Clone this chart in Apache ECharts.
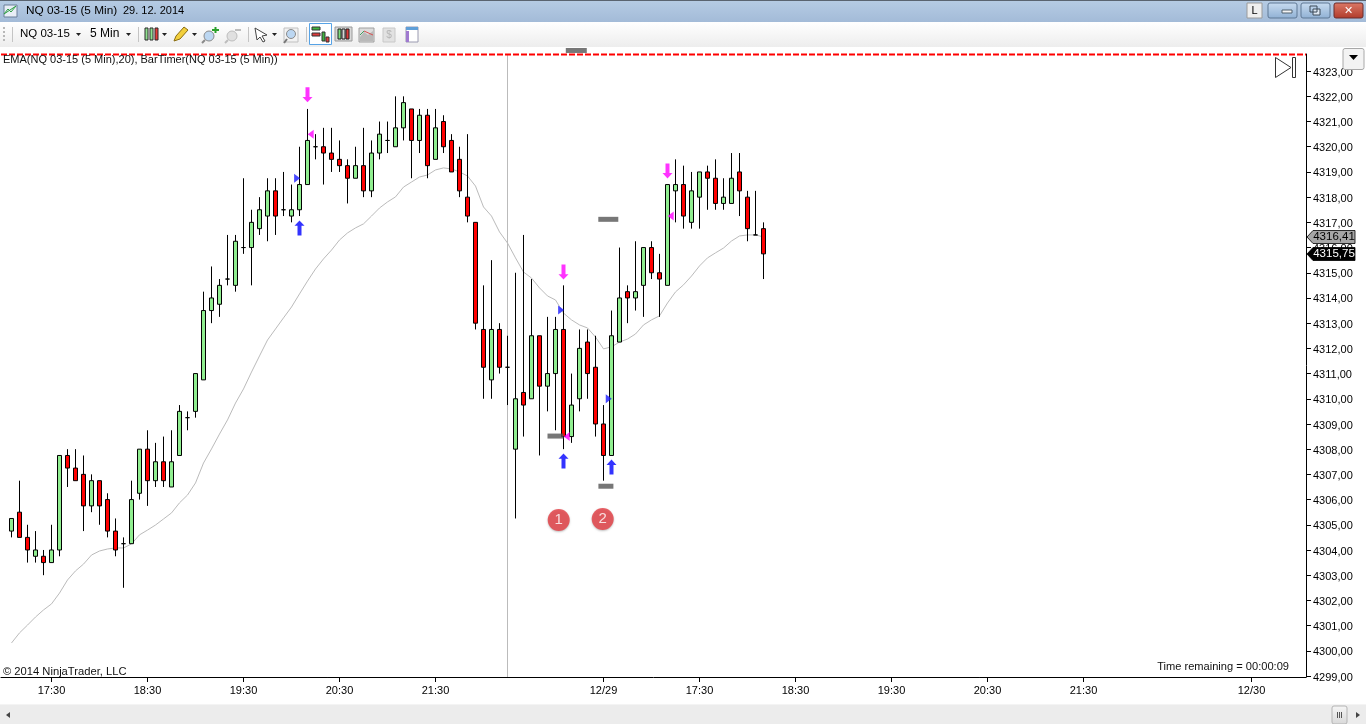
<!DOCTYPE html>
<html><head><meta charset="utf-8">
<style>html,body{margin:0;padding:0;background:#fff;overflow:hidden}#c{width:1366px;height:724px}</style>
<script src="https://cdn.jsdelivr.net/npm/echarts@6/dist/echarts.min.js"></script>
</head><body><div id="c"></div>
<script>
const opens=[4304.75,4305.5,4304.5,4303.75,4303.75,4303.5,4304,4307.75,4307.25,4307,4305.75,4306.75,4306,4304.75,4304.25,4304.25,4306.25,4308,4306.75,4307.5,4306.5,4307.75,4309.25,4309.5,4310.75,4313.5,4313.75,4314.75,4314.5,4316,4316,4316.75,4317.25,4318.25,4317.5,4317.25,4317.5,4318.5,4320,4320,4319.75,4319.5,4319.25,4318.75,4319.25,4318.25,4319.75,4320.25,4320,4320.75,4321.5,4320.25,4321.25,4319.5,4321,4320.25,4319.5,4318,4317,4312.75,4310.75,4312.75,4311.25,4308,4310.25,4310,4312.5,4310.5,4311,4312.75,4308.5,4310,4312.25,4311.25,4309,4307.75,4312.25,4314.25,4314,4314.5,4316,4315,4314.5,4318.25,4318.5,4317,4318,4319,4318.75,4317.75,4317.75,4319,4318,4316.5,4316.75];
const highs=[4305.25,4306.75,4305,4304.75,4304,4305,4307.75,4308,4308,4307.75,4307,4306.75,4306.25,4305.25,4304.5,4306.75,4308,4308.75,4308.25,4308.5,4308.75,4309.75,4309.5,4311,4314.25,4315.25,4314.75,4316.5,4316.5,4318.75,4317.5,4318,4318.75,4318.75,4319,4318.5,4320,4321.5,4320.5,4320.75,4320.75,4320.25,4319.5,4320,4320.75,4320.25,4321,4321,4322,4322,4321.5,4321.5,4321.5,4321.5,4321.25,4320.5,4320,4320.5,4317,4314.5,4315.5,4313,4312.5,4315,4316.5,4314.75,4312.5,4313.25,4313.25,4314.5,4311,4312.75,4312.75,4312.5,4309.75,4313.5,4316,4314.5,4316.25,4316,4316.25,4315.75,4318.5,4319.5,4319.25,4319,4319,4319.25,4319.5,4318.75,4319.75,4319.75,4318.25,4318.25,4317];
const lows=[4304.5,4304.5,4303.5,4303.5,4303,4303.5,4303.75,4306.5,4306.75,4304.75,4305.5,4305,4304.5,4303.75,4302.5,4304.25,4306,4305.75,4306.5,4306.5,4306.5,4307.75,4308.75,4309.25,4310.75,4313,4313.25,4314.5,4314.25,4315.75,4314.5,4316.5,4316.25,4316.5,4317.25,4317,4317.25,4318.5,4319.5,4318.5,4319,4319,4317.75,4318.75,4318,4318,4319.5,4319.75,4320,4320.25,4318.75,4319.75,4318.75,4319.5,4319.75,4319,4318,4317,4312.75,4310,4310,4311,4309.75,4305.25,4308.5,4310,4307.75,4309.5,4308.75,4308,4308.25,4309.5,4310,4308.5,4306.75,4307.75,4312.25,4313,4313.5,4313.25,4314.75,4313.25,4314.5,4317,4316.75,4316.75,4316.75,4317.5,4317.5,4317.5,4317.75,4317.25,4316.25,4316.5,4314.75];
const closes=[4305.25,4304.5,4304,4304,4303.5,4304,4307.75,4307.25,4306.75,4305.75,4306.75,4305.75,4304.75,4304,4304.25,4306,4308,4306.75,4307.5,4306.75,4307.5,4309.5,4309.25,4311,4313.5,4314,4314.5,4314.75,4316.25,4316,4317,4317.5,4318.25,4317.25,4317.5,4317.5,4318.5,4320.25,4320,4319.75,4319.5,4319.25,4318.75,4319.25,4318.25,4319.75,4320.5,4320.25,4320.75,4321.75,4320.25,4321.25,4319.25,4320.75,4320,4319,4318.25,4317.25,4313,4311.25,4312.75,4311.25,4311.25,4310,4309.75,4312.5,4310.5,4311,4312.75,4308.5,4309.75,4312,4311,4309,4307.75,4312.5,4314,4314,4314.25,4316,4315,4314.75,4318.5,4318.5,4317.25,4318.25,4319,4318.75,4317.75,4318,4318.75,4318.25,4316.75,4316.5,4315.75];
const ema=[4300.31,4300.71,4301.02,4301.34,4301.62,4301.86,4302.29,4302.81,4303.17,4303.44,4303.80,4303.96,4304.04,4304.08,4304.08,4304.24,4304.60,4304.79,4304.99,4305.23,4305.47,4305.87,4306.18,4306.66,4307.45,4308.01,4308.60,4309.16,4309.83,4310.39,4311.06,4311.70,4312.33,4312.77,4313.21,4313.64,4314.16,4314.67,4315.15,4315.55,4315.90,4316.30,4316.58,4316.78,4316.94,4317.25,4317.57,4317.81,4318.01,4318.40,4318.60,4318.80,4318.88,4319.08,4319.16,4319.12,4319.00,4318.84,4318.44,4317.61,4317.25,4316.62,4316.18,4315.59,4315.03,4314.79,4314.40,4314.08,4313.92,4313.40,4313.13,4312.93,4312.81,4312.45,4311.98,4312.06,4312.25,4312.37,4312.57,4312.93,4313.13,4313.29,4313.80,4314.24,4314.52,4314.87,4315.27,4315.59,4315.79,4315.98,4316.26,4316.46,4316.50,4316.50,4316.42];
const priceTicks=[4299,4300,4301,4302,4303,4304,4305,4306,4307,4308,4309,4310,4311,4312,4313,4314,4315,4316,4317,4318,4319,4320,4321,4322,4323];
const timeTickIdx=[5,17,29,41,53,74,86,98,110,122,134,155];
const timeTickLabels=['17:30','18:30','19:30','20:30','21:30','12/29','17:30','18:30','19:30','20:30','21:30','12/30'];
const downArrows=[[37,4322.06],[69,4315.03],[82,4319.04]];
const upArrows=[[36,4316.78],[69,4307.53],[75,4307.29]];
const blueTriangles=[[35.7,4318.75],[68.7,4313.52],[74.66,4310]];
const magentaTriangles=[[37.4,4320.5],[69.4,4308.5],[82.4,4317.25]];
const greyDashes=[[68,4308.52,16],[74.6,4317.12,20],[74.3,4306.53,15],[70.6,4323.82,21]];
const numbered=[[68.4,4305.19,'1'],[73.9,4305.23,'2']];
const cursorIndex=62;
const topPriceLine=4323.66;
const priceTags=[[4316.41,'4316,41','#a6a6a6','#000'],[4315.75,'4315,75','#000','#fff']];
const FONT='"Liberation Sans",Arial,sans-serif';
const xMin=-1.3125, xMax=161.8125;

const candle=opens.map((o,i)=>[i,o,closes[i],lows[i],highs[i]]);
const emaPts=ema.map((v,i)=>[i,v]);

const g=[];
const rect=(x,y,w,h,fill,stroke,z,r)=>g.push({type:'rect',shape:{x,y,width:w,height:h,r:r||0},style:{fill:fill||'transparent',stroke:stroke||null,lineWidth:1},z:z||1,silent:true});
const line=(x1,y1,x2,y2,c,z,lw)=>g.push({type:'line',shape:{x1,y1,x2,y2},style:{stroke:c,lineWidth:lw||1},z:z||1,silent:true});
const poly=(pts,fill,stroke,z)=>g.push({type:'polygon',shape:{points:pts},style:{fill:fill||'transparent',stroke:stroke||null,lineWidth:1},z:z||1,silent:true});
const text=(x,y,t,size,c,align,z)=>g.push({type:'text',x,y,style:{text:t,font:size+'px '+FONT,fill:c||'#000',align:align||'left',verticalAlign:'middle'},z:z||5,silent:true});
const grad=(a,b)=>({type:'linear',x:0,y:0,x2:0,y2:1,colorStops:[{offset:0,color:a},{offset:1,color:b}]});

/* title bar */
rect(0,0,1366,22,grad('#b6cce4','#a3bbd8'));
rect(0,0,1366,1,'#5a6470');
rect(4,5,13,12,'#e8eef6','#6a7f99');
poly([[4,14],[8,9],[11,12],[16,6]],null,'#2f9e44');
text(26,11,'NQ 03-15 (5 Min)',11.8,'#000');
text(123,11,'29. 12. 2014',11,'#000');
rect(1247,3,15,15,'#eeeeee','#9a9a9a',3);
text(1254.5,11,'L',11,'#000','center');
rect(1268,3,29,15,grad('#c9dcf0','#8fb0d4'),'#5f7895',3,2);
rect(1282,10,10,3,'#f4f4f4','#50606f',3);
rect(1301,3,29,15,grad('#c9dcf0','#8fb0d4'),'#5f7895',3,2);
rect(1313,9,7,6,'#dfe8f2','#3c4a58',3);rect(1310,6,7,6,'transparent','#3c4a58',3);
rect(1334,3,29,15,grad('#dc7a68','#b03a2a'),'#6b2c2c',3,2);
text(1348.5,11,'✕',11,'#fff','center');

/* toolbar */
rect(0,22,1366,25,grad('#ffffff','#ededed'));
for(let i=0;i<4;i++)rect(3,27+i*4,2,2,'#b8b8b8');
line(12.5,27,12.5,42,'#c4c4c4');
text(20,34,'NQ 03-15',11.5,'#000');
poly([[76,33],[81,33],[78.5,36]],'#222');
text(90,34,'5 Min',12,'#000');
poly([[126,33],[131,33],[128.5,36]],'#222');
line(138.5,27,138.5,42,'#c4c4c4');
/* candle icon */
rect(145,28,3,12,'#8fe08f','#2b2b2b');rect(150,28,3,12,'#8fe08f','#2b2b2b');rect(155,28,3,12,'#e83b3b','#2b2b2b');
poly([[162,33],[167,33],[164.5,36]],'#222');
/* pencil */
poly([[174,41],[176,36],[184,27],[188,30],[180,39]],'#f2cf3c','#8a6d12');
poly([[192,33],[197,33],[194.5,36]],'#222');
/* zoom in/out */
g.push({type:'circle',shape:{cx:209,cy:36,r:5},style:{fill:'#bcd7f2',stroke:'#8a8a8a'},z:1,silent:true});
line(205,40,202,43,'#8a8a8a',1,2);
line(212,30,219,30,'#2aa02a',1,2);line(215.5,27,215.5,33,'#2aa02a',1,2);
g.push({type:'circle',shape:{cx:232,cy:36,r:5},style:{fill:'#e0e0e0',stroke:'#bdbdbd'},z:1,silent:true});
line(228,40,225,43,'#bdbdbd',1,2);line(235,30,241,30,'#bdbdbd',1,2);
line(248.5,27,248.5,42,'#c4c4c4');
/* cursor */
poly([[255,28],[267,35],[262,36],[265,41],[263,42],[260,37],[257,40]],'#fff','#444');
poly([[272,33],[277,33],[274.5,36]],'#222');
rect(284,28,14,14,'#f2f2f2','#c0c0c0');
g.push({type:'circle',shape:{cx:291,cy:34,r:4.5},style:{fill:'#bcd7f2',stroke:'#8a8a8a'},z:1,silent:true});
line(287,39,284,43,'#777',1,2);
line(306.5,27,306.5,42,'#c4c4c4');
/* highlighted chart style */
rect(309.5,23.5,22,21,'#ffffff','#57a3e6');
rect(312,27,8,3,'#3fb53f','#333');rect(312,33,8,3,'#e03a3a','#333');rect(322,32,3,9,'#3fb53f','#333');rect(326,37,3,5,'#e03a3a','#333');
/* bars */
rect(335,27,17,14,'#d9d9d9','#9a9a9a');
rect(338,29,3,10,'#7ddc7d','#222');rect(342,29,3,10,'#d6d6d6','#222');rect(346,29,3,10,'#e03a3a','#222');
/* chart */
rect(359,28,15,14,'#dcdcdc','#a0a0a0');
poly([[360,37],[364,32],[368,35],[373,31],[373,41],[360,41]],'#b9b9b9');
line(360,35,364,31,'#40a060');line(364,31,373,35,'#d85050');
/* disabled */
rect(383,28,12,14,'#e2e2e2','#c8c8c8');
text(389,35,'$',10,'#b5b5b5','center');
rect(406,27,12,15,'#ffffff','#9a9ab0');
rect(406,27,12,3,'#5f9fd8');rect(406,31,3,11,'#a07ad0');

/* bottom */
rect(0,705,1366,19,'#ececec');
rect(0,704,1366,1,'#f4f4f4');
poly([[10,712],[10,718],[6,715]],'#444');
rect(1332,706,15,18,grad('#f6f6f6','#d8d8d8'),'#b4b4b4',2,2);
for(let i=0;i<3;i++)line(1337+i*2+.5,712,1337+i*2+.5,718,'#555',3);
poly([[1356,712],[1356,718],[1360,715]],'#444');

/* chart overlays */
text(3,59.5,'EMA(NQ 03-15 (5 Min),20), BarTimer(NQ 03-15 (5 Min))',11,'#111');
text(3,671.5,'© 2014 NinjaTrader, LLC',11.2,'#111');
text(1289,666.5,'Time remaining = 00:00:09',11.1,'#111','right');
poly([[1275.5,57.5],[1275.5,77.5],[1291,67.5]],'#fff','#333');
rect(1292.5,57.5,3,20,'#fff','#333');
rect(1343,48.5,21,21,'#f3f3f3','#a8a8a8',20,2);
poly([[1349,55],[1358,55],[1353.5,60]],'#000',null,21);

const option={
 animation:false,
 backgroundColor:'#fff',
 textStyle:{fontFamily:FONT},
 grid:{left:1,right:60,top:54,bottom:47,containLabel:false},
 xAxis:{type:'value',min:xMin,max:xMax,splitLine:{show:false},
  axisLine:{show:true,onZero:false,lineStyle:{color:'#000',width:1}},
  axisTick:{show:true,length:5,lineStyle:{color:'#000'},customValues:timeTickIdx},
  axisLabel:{color:'#000',fontSize:11,margin:8,fontFamily:FONT,customValues:timeTickIdx,
   formatter:v=>timeTickLabels[timeTickIdx.indexOf(v)]||''}},
 yAxis:{type:'value',position:'right',min:4298.96,max:4323.68,splitLine:{show:false},
  axisLine:{show:true,onZero:false,lineStyle:{color:'#000',width:1}},
  axisTick:{show:true,length:5,lineStyle:{color:'#000'},customValues:priceTicks},
  axisLabel:{color:'#000',fontSize:11,margin:7,verticalAlign:'top',lineHeight:3,fontFamily:FONT,customValues:priceTicks,
   formatter:v=>v.toFixed(2).replace('.',',')}},
 graphic:{elements:g},
 series:[
  {type:'line',name:'EMA',data:emaPts,showSymbol:false,symbol:'none',z:2,silent:true,
   lineStyle:{color:'#bbbbbb',width:1},
   markLine:{silent:true,symbol:'none',label:{show:false},animation:false,z:1,
    data:[{xAxis:cursorIndex,lineStyle:{color:'#bbbbbb',width:1,type:'solid'}}]}},
  {type:'line',name:'Top price line',data:[[xMin,topPriceLine],[xMax,topPriceLine]],showSymbol:false,symbol:'none',clip:false,z:4,silent:true,
   lineStyle:{color:'#ff0000',width:2,type:[6,2],cap:'butt'}},
  {type:'candlestick',name:'NQ 03-15',data:candle,encode:{x:0,y:[1,2,3,4]},barWidth:4,z:3,silent:true,
   itemStyle:{color:'#90ee90',color0:'#ff0000',borderColor:'#000',borderColor0:'#000',borderColorDoji:'#000',borderWidth:1}},
  {type:'scatter',data:downArrows,symbol:'path://M3,0 H7 V9 H10 L5,14 L0,9 H3 Z',symbolSize:[10,15],itemStyle:{color:'#ff00ff'},z:5,clip:false,silent:true},
  {type:'scatter',data:upArrows,symbol:'path://M5,0 L10,5 H7 V14 H3 V5 H0 Z',symbolSize:[10,15],itemStyle:{color:'#0000ff'},z:5,clip:false,silent:true},
  {type:'scatter',data:blueTriangles,symbol:'path://M0,0 L6,4 L0,8 Z',symbolSize:[6,9],itemStyle:{color:'#1a1aff'},z:5,clip:false,silent:true},
  {type:'scatter',data:magentaTriangles,symbol:'path://M6,0 L0,4 L6,8 Z',symbolSize:[6,9],itemStyle:{color:'#ff00ff'},z:5,clip:false,silent:true},
  {type:'scatter',data:greyDashes,symbol:'rect',symbolSize:d=>[d[2],5],itemStyle:{color:'#555555'},z:6,clip:false,silent:true},
  {type:'scatter',data:numbered,symbol:'circle',symbolSize:22,z:7,clip:false,silent:true,
   itemStyle:{color:'#e53c42',shadowBlur:2,shadowColor:'rgba(0,0,0,.3)',shadowOffsetY:1},
   label:{show:true,position:'inside',color:'#fff',fontSize:15,fontFamily:FONT,formatter:p=>p.data[2]}},
  {type:'custom',data:priceTags.map(t=>[xMax,t[0]]),clip:false,z:10,silent:true,encode:{x:0,y:1},
   renderItem:(params,api)=>{
    const t=priceTags[params.dataIndex];
    const p=api.coord([api.value(0),api.value(1)]);
    const x=Math.round(p[0]),y=Math.round(p[1]);
    return {type:'group',children:[
     {type:'polygon',shape:{points:[[x+1,y],[x+7,y-6.5],[x+49,y-6.5],[x+49,y+6.5],[x+7,y+6.5]]},style:{fill:t[2],stroke:'#000',lineWidth:.8}},
     {type:'text',x:x+28,y:y,style:{text:t[1],font:'11.5px '+FONT,fill:t[3],align:'center',verticalAlign:'middle'}}
    ]};
   }}
 ]
};
const chart=echarts.init(document.getElementById('c'),null,{renderer:'canvas'});
chart.setOption(option);
</script></body></html>
